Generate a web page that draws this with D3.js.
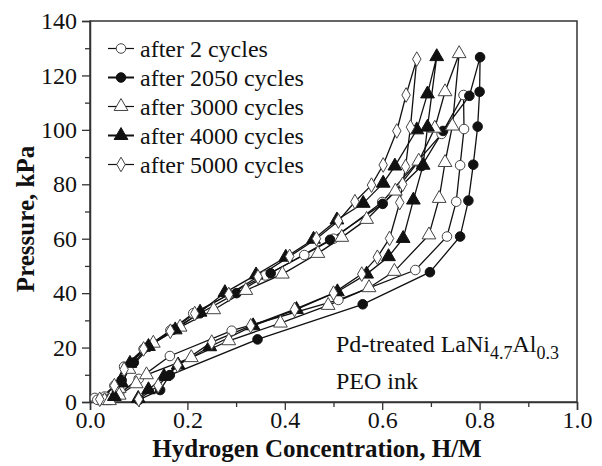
<!DOCTYPE html>
<html><head><meta charset="utf-8">
<script src="https://cdn.jsdelivr.net/npm/d3@7"></script>
<style>body{margin:0;background:#fff}svg{display:block}text{font-family:"Liberation Serif","Times New Roman",serif;fill:#111}</style>
</head><body><svg id="c" width="602" height="466"></svg>
<script>
const xTicks = [0, 0.2, 0.4, 0.6, 0.8, 1.0];
const xTickLabels = ["0.0","0.2","0.4","0.6","0.8","1.0"];
const yTicks = [0, 20, 40, 60, 80, 100, 120, 140];
const seriesNames = ["after 2 cycles","after 2050 cycles","after 3000 cycles","after 4000 cycles","after 5000 cycles"];

const cycles2 = [[0.01,1.5],[0.03,2],[0.05,6],[0.07,13],[0.11,19.5],[0.165,26.3],[0.212,32.6],[0.285,39.5],[0.36,46.5],[0.44,54],[0.5,60],[0.6,73.5],[0.722,98.5],[0.767,112.8],
  [0.768,100.3],[0.76,87],[0.752,73.6],[0.733,60.8],[0.668,48.5],[0.51,37.5],[0.291,26.2],[0.164,16.9],[0.1,8.5],[0.06,3],[0.03,1.2],[0.015,0.8]];
const cycles2050 = [[0.04,1],[0.055,4.4],[0.065,8],[0.09,14.5],[0.12,20.3],[0.17,26.5],[0.226,32.6],[0.301,40],[0.371,47.3],[0.493,59.6],[0.601,72.8],[0.681,86.7],[0.725,99.6],[0.779,112.5],[0.801,126.7],
  [0.80,114],[0.796,101.2],[0.787,87.2],[0.777,74],[0.76,60.8],[0.698,47.7],[0.56,35.9],[0.344,23],[0.164,9.9],[0.144,4.4],[0.1,0.8]];
const cycles3000 = [[0.03,0.5],[0.06,5],[0.08,12],[0.13,21.6],[0.185,27.5],[0.254,33.9],[0.32,41],[0.395,47],[0.468,54.6],[0.517,60.5],[0.568,67.1],[0.627,77.5],[0.675,88.5],[0.708,100.6],[0.729,114],[0.758,128],
  [0.744,101.4],[0.729,88],[0.717,74.8],[0.696,61.4],[0.625,48],[0.573,42],[0.489,35.5],[0.391,29],[0.285,22.5],[0.208,16.3],[0.116,10],[0.095,6.7],[0.06,2.5],[0.04,0.5]];
const cycles4000 = [[0.05,2],[0.065,7],[0.082,14.2],[0.12,20.4],[0.175,26.5],[0.226,33],[0.277,40.2],[0.341,46.7],[0.402,53.2],[0.459,59.8],[0.507,66.9],[0.561,73],[0.602,80.4],[0.626,86.7],[0.671,100],[0.693,113.2],[0.712,126.9],
  [0.693,101],[0.684,87],[0.664,74.2],[0.643,60.1],[0.613,53.4],[0.568,47],[0.508,40.5],[0.424,34],[0.335,28],[0.246,20.3],[0.181,13.6],[0.152,9.4],[0.12,4.5],[0.099,1.3]];
const cycles5000 = [[0.02,1],[0.05,6],[0.07,12],[0.11,19.5],[0.165,26],[0.215,32.5],[0.285,39.5],[0.345,46],[0.41,53.5],[0.465,60],[0.51,66.5],[0.544,73.6],[0.578,79.7],[0.602,87.1],[0.63,99.6],[0.649,112.8],[0.671,126],
  [0.658,101],[0.648,86.5],[0.642,80],[0.636,73.3],[0.615,60.1],[0.59,53.2],[0.558,47],[0.5,40],[0.42,34],[0.33,28],[0.25,22],[0.18,13.5],[0.14,6],[0.1,1]];

const allSeries = [cycles2, cycles2050, cycles3000, cycles4000, cycles5000];
const symbols = [d3.symbolCircle, d3.symbolCircle, d3.symbolTriangle, d3.symbolTriangle, d3.symbolDiamond];
const filled = [false, true, false, true, false];
const symSize = [72, 72, 82, 82, 62];

const svg = d3.select("#c");
const L = 90, R = 577, T = 21, B = 402;
const x = d3.scaleLinear().domain([0, 1]).range([L, R]);
const y = d3.scaleLinear().domain([0, 140]).range([B, T]);

// frame
svg.append("rect").attr("x", L).attr("y", T).attr("width", R - L).attr("height", B - T)
  .attr("fill", "none").attr("stroke", "#333").attr("stroke-width", 1.5);

// axes
const xMinor = d3.range(0.1, 1.0, 0.2);
svg.append("g").attr("transform", `translate(0,${B})`)
  .call(d3.axisBottom(x).tickValues(xTicks).tickFormat((d,i) => xTickLabels[i]).tickSize(8).tickPadding(1));
svg.append("g").attr("transform", `translate(0,${B})`)
  .call(d3.axisBottom(x).tickValues(xMinor).tickFormat("").tickSize(5))
  .call(g => g.select(".domain").remove());
const yMinor = d3.range(10, 140, 20);
svg.append("g").attr("transform", `translate(${L},0)`)
  .call(d3.axisLeft(y).tickValues(yTicks).tickSize(8).tickPadding(5));
svg.append("g").attr("transform", `translate(${L},0)`)
  .call(d3.axisLeft(y).tickValues(yMinor).tickFormat("").tickSize(5))
  .call(g => g.select(".domain").remove());
svg.selectAll(".tick line").attr("stroke", "#333").attr("stroke-width", 1.3);
svg.selectAll(".domain").attr("stroke", "#333").attr("stroke-width", 1.5);
svg.selectAll(".tick text").attr("font-size", 24).attr("fill", "#111");

// axis titles
svg.append("text").attr("x", 317).attr("y", 457).attr("text-anchor", "middle")
  .attr("font-size", 25).attr("font-weight", "bold").text("Hydrogen Concentration, H/M");
svg.append("text").attr("transform", `translate(34,219) rotate(-90)`).attr("text-anchor", "middle")
  .attr("font-size", 25).attr("font-weight", "bold").text("Pressure, kPa");

// series
const line = d3.line().x(d => x(d[0])).y(d => y(d[1]));
allSeries.forEach((s, i) => {
  svg.append("path").datum(s).attr("d", line).attr("fill", "none")
    .attr("stroke", "#111").attr("stroke-width", 1.3);
});
allSeries.forEach((s, i) => {
  svg.append("g").selectAll("path").data(s).join("path")
    .attr("transform", d => `translate(${x(d[0])},${y(d[1])})`)
    .attr("d", d3.symbol().type(symbols[i]).size(symSize[i]))
    .attr("fill", filled[i] ? "#111" : "#fff")
    .attr("stroke", filled[i] ? "#111" : "#444").attr("stroke-width", 1);
});

// legend
const lg = svg.append("g");
seriesNames.forEach((n, i) => {
  const yy = 48.5 + i * 29;
  lg.append("line").attr("x1", 108).attr("x2", 134).attr("y1", yy).attr("y2", yy)
    .attr("stroke", "#111").attr("stroke-width", filled[i] ? 2 : 1.2);
  lg.append("path").attr("transform", `translate(121,${yy})`)
    .attr("d", d3.symbol().type(symbols[i]).size(symSize[i]))
    .attr("fill", filled[i] ? "#111" : "#fff").attr("stroke", filled[i] ? "#111" : "#444");
  lg.append("text").attr("x", 140).attr("y", yy + 8).attr("font-size", 24).text(n);
});

// annotation
const an = svg.append("text").attr("x", 336).attr("y", 352).attr("font-size", 24);
an.append("tspan").text("Pd-treated LaNi");
an.append("tspan").attr("dy", 7).attr("font-size", 18).text("4.7");
an.append("tspan").attr("dy", -7).text("Al");
an.append("tspan").attr("dy", 7).attr("font-size", 18).text("0.3");
svg.append("text").attr("x", 336).attr("y", 389).attr("font-size", 24).text("PEO ink");
</script></body></html>
